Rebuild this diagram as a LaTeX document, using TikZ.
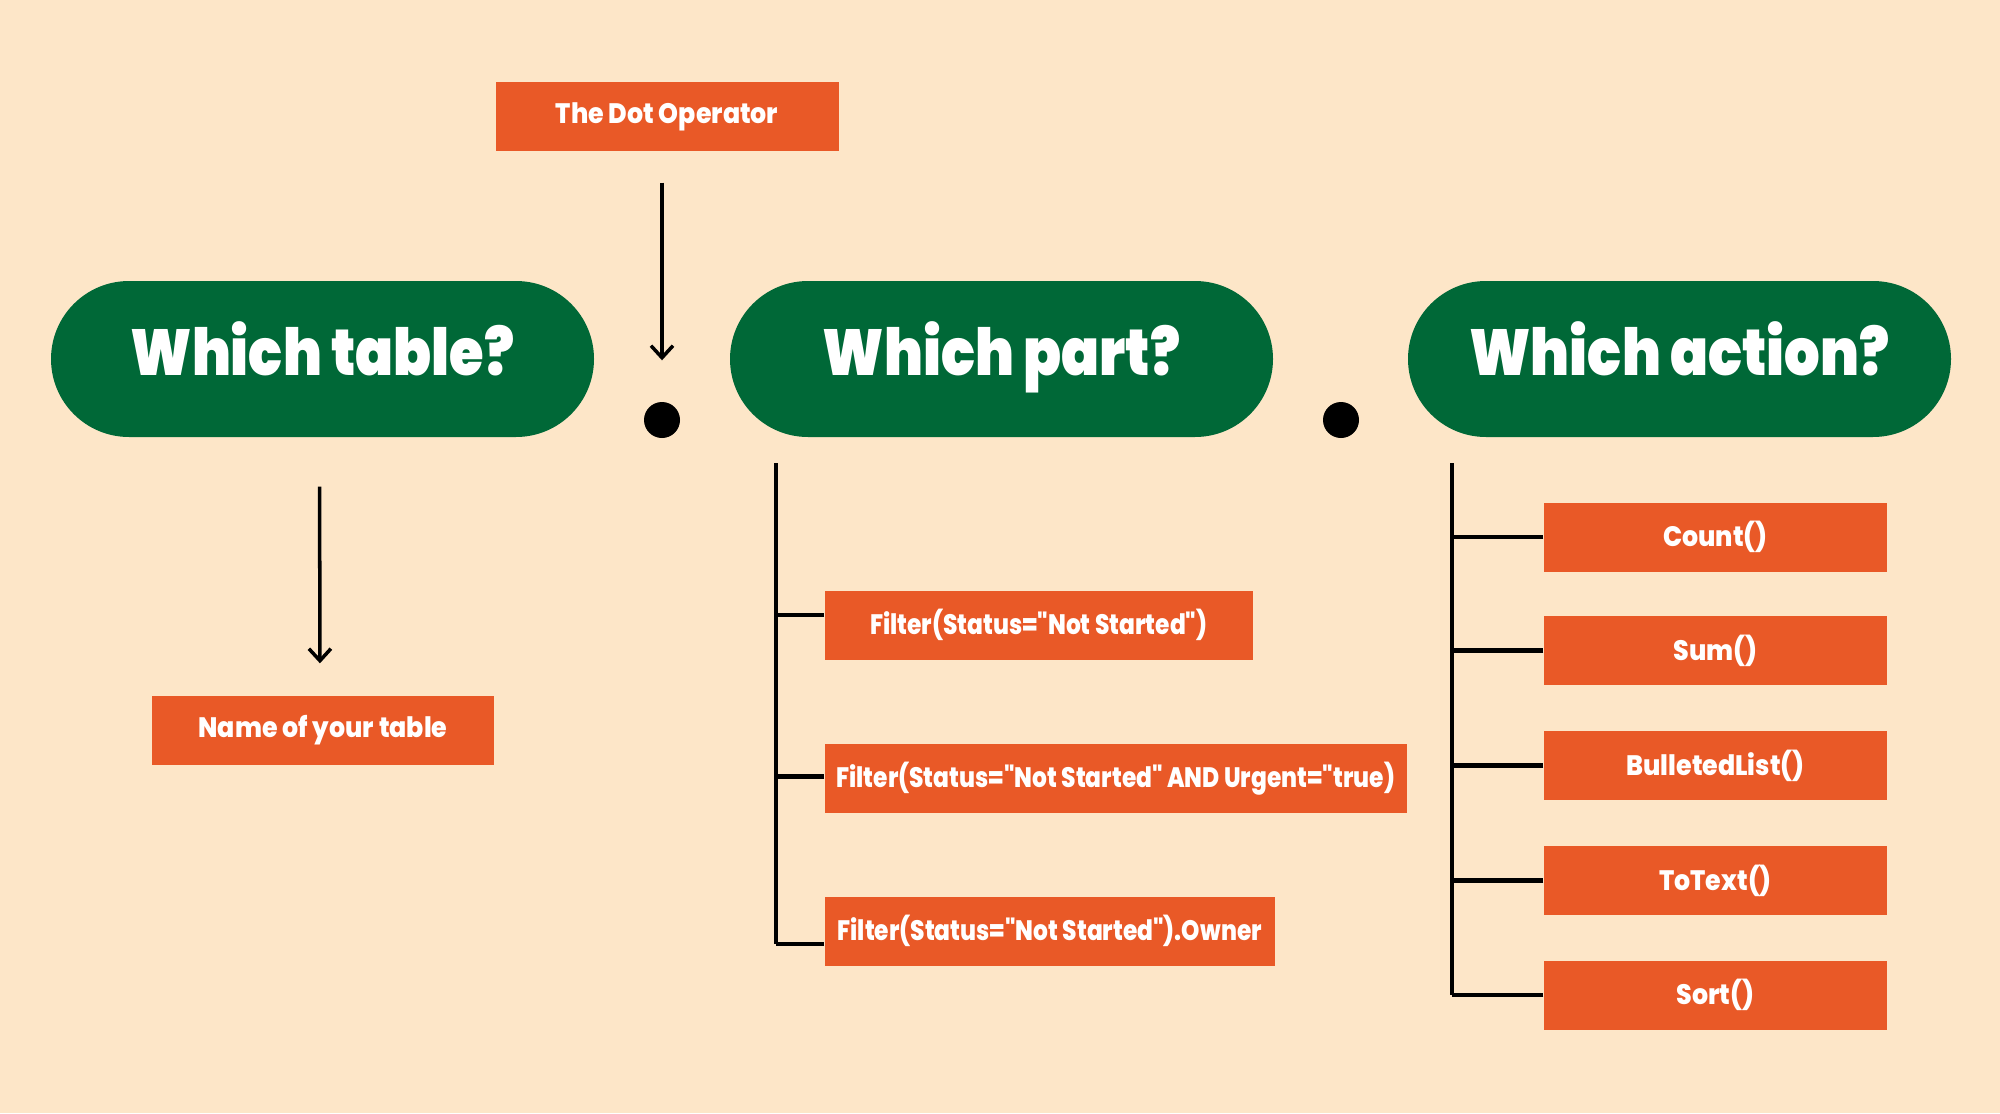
\documentclass[tikz,border=0pt]{standalone}
\usepackage{fontspec}
\setmainfont{Poppins}[UprightFont=* Black, BoldFont=* Black, FakeStretch=0.86]
\newfontfamily\boxfont{Poppins}[UprightFont=* ExtraBold, FakeStretch=0.9]
\newfontfamily\filterfont{Poppins}[UprightFont=* ExtraBold, FakeStretch=0.83]
\usetikzlibrary{shapes.misc,arrows.meta}

\definecolor{peach}{RGB}{253,230,200}
\definecolor{pillgreen}{RGB}{0,104,55}
\definecolor{tagorange}{RGB}{233,89,39}

\tikzset{
	pill/.style={rounded rectangle,fill=pillgreen,text=white,inner sep=0,minimum width=5.43cm,minimum height=1.56cm,text height=0.5cm,text depth=0.18cm,font=\fontsize{18.5}{20}\selectfont},
	tag/.style={rectangle,fill=tagorange,text=white,inner sep=0,minimum height=0.69cm,font=\boxfont\fontsize{8}{9}\selectfont},
	filtertag/.style={tag,anchor=west,font=\filterfont\fontsize{8}{9}\selectfont},
	dotop/.style={circle,fill=black,inner sep=0,minimum size=0.36cm},
	arrow/.style={line width=1pt,-{Straight Barb[length=1.2mm,width=2.2mm]}},
	tree/.style={line width=0.9pt},
	branch/.style={line width=1.4pt}
}

\begin{document}
\begin{tikzpicture}
	\fill[peach] (0,0) rectangle (20,11.13);
	\useasboundingbox (0,0) rectangle (20,11.13);
	% the three questions
	\node[pill] (table) at (3.225,7.54) {Which table?};
	\node[pill] (part) at (10.015,7.54) {Which part?};
	\node[pill] (action) at (16.795,7.54) {Which action?};
	\node[dotop] (dot1) at (6.62,6.93) {};
	\node[dotop] (dot2) at (13.41,6.93) {};
	% labels
	\node[tag,minimum width=3.43cm] (operator) at (6.67,9.965) {The Dot Operator};
	\node[tag,minimum width=3.42cm] (tablename) at (3.23,3.825) {Name of your table};
	\draw[arrow,shorten <=0.31cm,shorten >=0.41cm] (operator.south -| dot1) -- (dot1.north);
	\draw[arrow,shorten <=0.49cm,shorten >=0.32cm] ([xshift=-0.03cm]table.south) -- ([xshift=-0.03cm]tablename.north);
	% which part
	\node[filtertag,minimum width=4.28cm] (f1) at (8.24,4.88) {Filter(Status="Not Started")};
	\node[filtertag,minimum width=5.82cm] (f2) at (8.24,3.345) {Filter(Status="Not Started" AND Urgent="true)};
	\node[filtertag,minimum width=4.50cm] (f3) at (8.24,1.82) {Filter(Status="Not Started").Owner};
	\coordinate (parttop) at (7.76,6.50);
	\coordinate (partend) at ([yshift=-0.13cm]f3.west);
	\draw[tree] (parttop) -- (parttop |- partend);
	\draw[branch] ([yshift=0.10cm]f1.west) -- ++(-0.48,0);
	\draw[branch] ([yshift=0.02cm]f2.west) -- ++(-0.48,0);
	\draw[branch] (partend) -- (partend -| parttop);
	% which action
	\node[tag,minimum width=3.43cm] (count) at (17.155,5.76) {Count()};
	\node[tag,minimum width=3.43cm] (sum) at (17.155,4.625) {Sum()};
	\node[tag,minimum width=3.43cm] (bullet) at (17.155,3.475) {BulletedList()};
	\node[tag,minimum width=3.43cm] (totext) at (17.155,2.325) {ToText()};
	\node[tag,minimum width=3.43cm] (sort) at (17.155,1.18) {Sort()};
	\coordinate (actiontop) at (14.52,6.50);
	\draw[tree] (actiontop) -- (actiontop |- sort.west);
	\foreach \b in {count,sum,bullet,totext,sort}
		\draw[branch] (\b.west) -- (\b.west -| actiontop);
\end{tikzpicture}
\end{document}
